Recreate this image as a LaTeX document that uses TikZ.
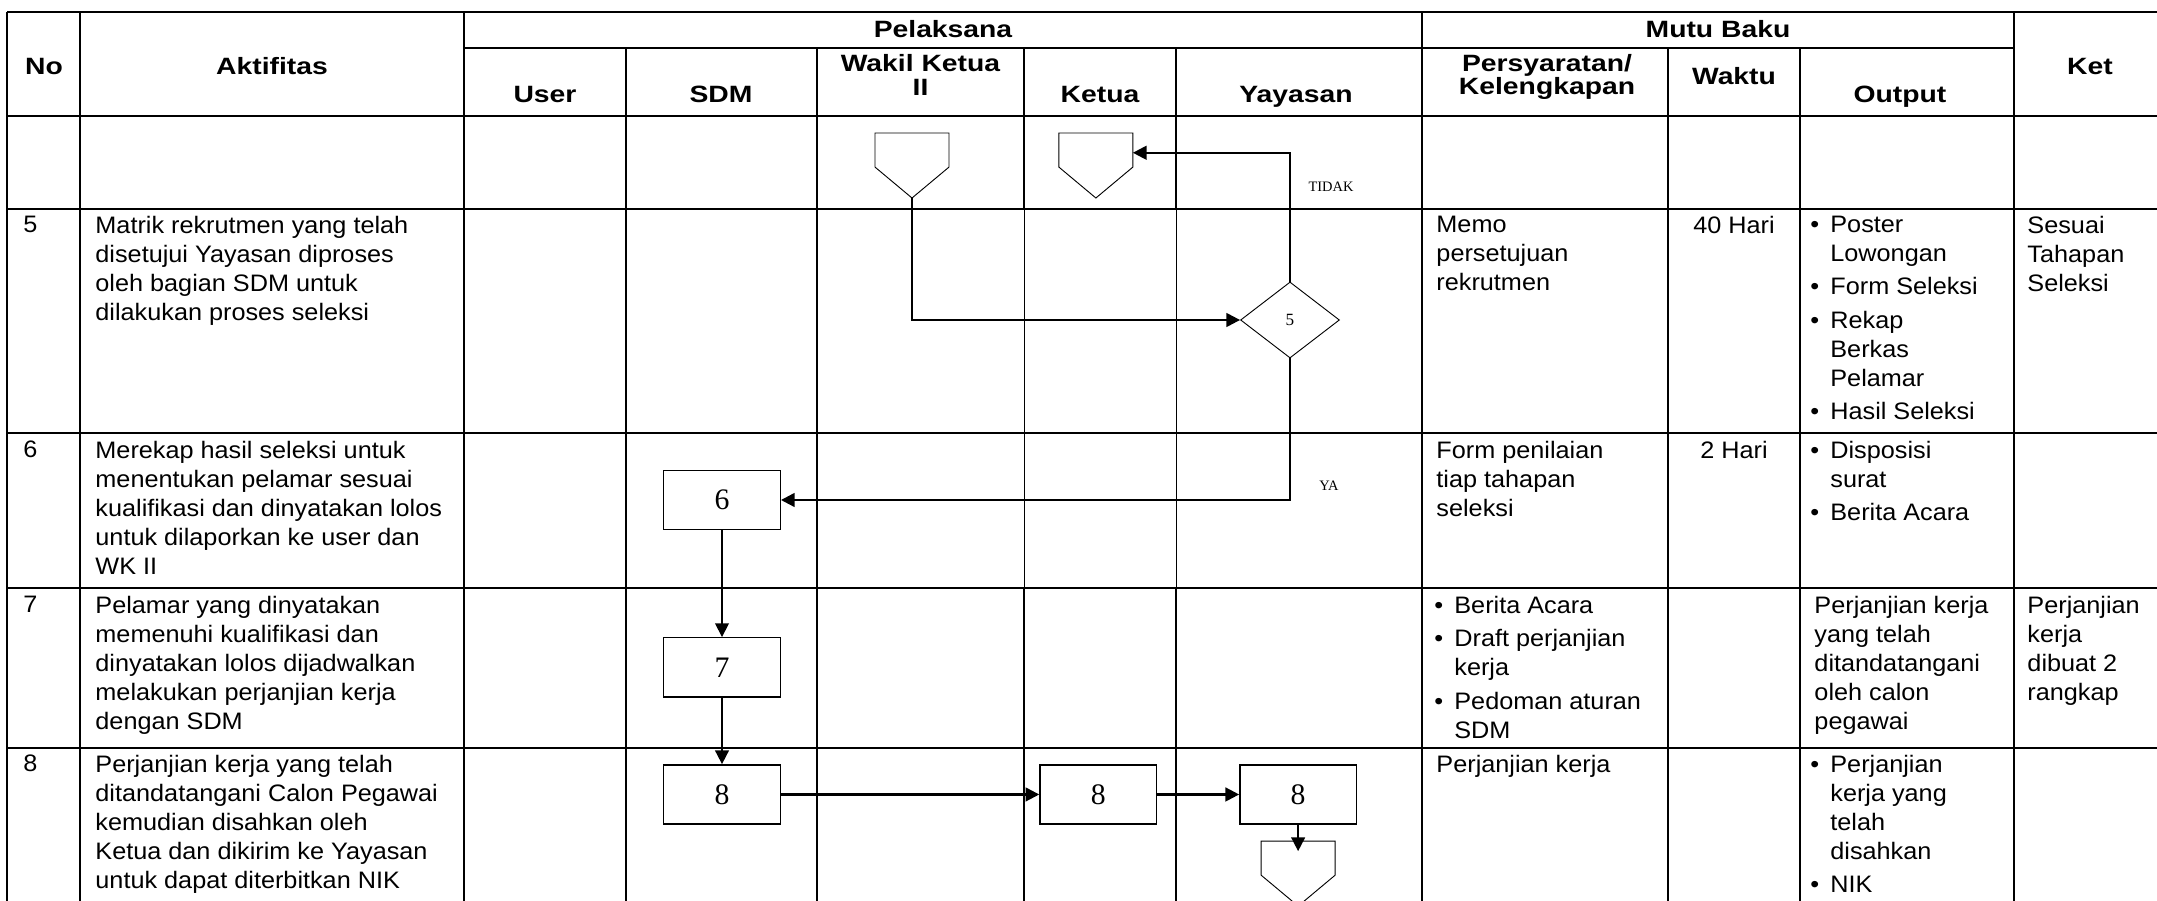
\documentclass[tikz,border=0pt]{standalone}
\usepackage{fontspec}
\setmainfont{Liberation Sans}[FakeStretch=1.06]
\newfontfamily\hdfont{Liberation Sans}[FakeStretch=1.2]
\newfontfamily\numfont{Liberation Serif}
\usetikzlibrary{shapes.geometric, arrows.meta, positioning}

\newcommand{\bul}{\makebox[8.7pt][l]{\textbullet}}
\newcommand{\bulind}{\hspace*{8.7pt}}
\newcommand{\opshape}[1]{%
  \draw [line width=0.4pt] (#1.north west) -- (#1.north east) -- ([yshift=13.5pt]#1.south east)
    -- (#1.south) -- ([yshift=13.5pt]#1.south west) -- cycle;}

\begin{document}
\begin{tikzpicture}[x=0.4367pt, y=-0.4367pt,
    gridline/.style={line width=0.9pt},
    gridthin/.style={line width=0.35pt},
    hdr/.style={font=\hdfont\fontsize{10.3}{10.2}\selectfont\bfseries,
                align=center, inner sep=0pt},
    txt/.style={font=\fontsize{10.4}{12.65}\selectfont, align=left,
                anchor=north west, inner sep=0pt},
    txtc/.style={txt, anchor=north, align=center},
    stepbox/.style={rectangle, draw, line width=0.6pt, minimum width=50.9pt,
                    minimum height=25.9pt, inner sep=0pt,
                    font=\numfont\fontsize{13}{14}\selectfont},
    decision/.style={diamond, draw, line width=0.4pt, minimum width=43.2pt,
                     minimum height=33.2pt, inner sep=0pt,
                     font=\numfont\fontsize{7.5}{8}\selectfont},
    offpage/.style={rectangle, minimum width=32.3pt, minimum height=28.4pt,
                    inner sep=0pt, outer sep=0pt},
    flag/.style={font=\numfont\fontsize{6.3}{7}\selectfont, inner sep=0pt},
    flow/.style={-{Triangle[length=6pt,width=6pt]}, line width=1pt},
    vflow/.style={-{Triangle[length=6pt,width=6pt]}, line width=0.75pt}
]
\useasboundingbox (0,0) rectangle (2157,901);

% --- Table grid ---
\draw [gridline] (7,12) -- (2157,12);
\draw [gridline] (464,48) -- (2014,48);
\foreach \y in {116,209,433,588,748}
  \draw [gridline] (7,\y) -- (2157,\y);
\foreach \x in {7,80,464,1422,2014}
  \draw [gridline] (\x,12) -- (\x,901);
\foreach \x in {626,817,1668,1800}
  \draw [gridline] (\x,48) -- (\x,901);
\foreach \x in {1024,1176} {
  \draw [gridline] (\x,48) -- (\x,209);
  \draw [gridthin] (\x,209) -- (\x,588);
  \draw [gridline] (\x,588) -- (\x,901);
}

% --- Header ---
\node (hNo) [hdr, anchor=base] at (44,75) {No};
\node (hAkt) [hdr, anchor=base] at (272,75) {Aktifitas};
\node (hPel) [hdr, anchor=base] at (943,37.3) {Pelaksana};
\node (hMutu) [hdr, anchor=base] at (1718,37.3) {Mutu Baku};
\node (hKet) [hdr, anchor=base] at (2090,75) {Ket};
\node (hUser) [hdr, anchor=base] at (545,102.5) {User};
\node (hSDM) [hdr, anchor=base] at (721,102.5) {SDM};
\node (hWK) [hdr] at (920.5,74.8) {Wakil Ketua\\II};
\node (hKetua) [hdr, anchor=base] at (1100,102.5) {Ketua};
\node (hYay) [hdr, anchor=base] at (1296,102.5) {Yayasan};
\node (hPers) [hdr] at (1547,77.2) {Persyaratan/\\Kelengkapan};
\node (hWaktu) [hdr, anchor=base] at (1734,85) {Waktu};
\node (hOut) [hdr, anchor=base] at (1900,103) {Output};

% --- Row 5 ---
\node (n5) [txt] at (23,215.5) {5};
\node (a5) [txt] at (95,215.5) {Matrik rekrutmen yang telah\\disetujui Yayasan diproses\\oleh bagian SDM untuk\\dilakukan proses seleksi};
\node (p5) [txt] at (1436,215.5) {Memo\\persetujuan\\rekrutmen};
\node (w5) [txtc] at (1734,215.5) {40 Hari};
\node (o5) [txt] at (1810,215.5) {\bul Poster\\\bulind Lowongan\\[2pt]\bul Form Seleksi\\[2pt]\bul Rekap\\\bulind Berkas\\\bulind Pelamar\\[2pt]\bul Hasil Seleksi};
\node (k5) [txt] at (2027,215.5) {Sesuai\\Tahapan\\Seleksi};

% --- Row 6 ---
\node (n6) [txt] at (23,440.5) {6};
\node (a6) [txt] at (95,440.5) {Merekap hasil seleksi untuk\\menentukan pelamar sesuai\\kualifikasi dan dinyatakan lolos\\untuk dilaporkan ke user dan\\WK II};
\node (p6) [txt] at (1436,440.5) {Form penilaian\\tiap tahapan\\seleksi};
\node (w6) [txtc] at (1734,440.5) {2 Hari};
\node (o6) [txt] at (1810,440.5) {\bul Disposisi\\\bulind surat\\[2pt]\bul Berita Acara};

% --- Row 7 ---
\node (n7) [txt] at (23,595.5) {7};
\node (a7) [txt] at (95,595.5) {Pelamar yang dinyatakan\\memenuhi kualifikasi dan\\dinyatakan lolos dijadwalkan\\melakukan perjanjian kerja\\dengan SDM};
\node (p7) [txt] at (1434,595.5) {\bul Berita Acara\\[2pt]\bul Draft perjanjian\\\bulind kerja\\[2pt]\bul Pedoman aturan\\\bulind SDM};
\node (o7) [txt] at (1814,595.5) {Perjanjian kerja\\yang telah\\ditandatangani\\oleh calon\\pegawai};
\node (k7) [txt] at (2027,595.5) {Perjanjian\\kerja\\dibuat 2\\rangkap};

% --- Row 8 ---
\node (n8) [txt] at (23,754.5) {8};
\node (a8) [txt] at (95,754.5) {Perjanjian kerja yang telah\\ditandatangani Calon Pegawai\\kemudian disahkan oleh\\Ketua dan dikirim ke Yayasan\\untuk dapat diterbitkan NIK};
\node (p8) [txt] at (1436,754.5) {Perjanjian kerja};
\node (o8) [txt] at (1810,754.5) {\bul Perjanjian\\\bulind kerja yang\\\bulind telah\\\bulind disahkan\\[2pt]\bul NIK};

% --- Flow ---
\node (opWK) [offpage] at (912,165.5) {};
\node (opKetua) [offpage, right=48pt of opWK] {};
\opshape{opWK}
\opshape{opKetua}
\node (d5) [decision] at (1290,320) {5};
\node (box6) [stepbox] at (722,500) {6};
\node (box7) [stepbox, below=46.6pt of box6] {7};
\node (box8a) [stepbox, below=29pt of box7] {8};
\node (box8b) [stepbox, right=112.8pt of box8a] {8};
\node (box8c) [stepbox, right=35.8pt of box8b] {8};
\node (opYay) [offpage, below=7.1pt of box8c] {};
\opshape{opYay}
\node (lbTidak) [flag] at (1331,187) {TIDAK};
\node (lbYa) [flag] at (1329,486) {YA};

\draw [flow] (opWK.south) |- (d5.west);
\draw [flow] (d5.north) |- (opKetua.19);
\draw [flow] (d5.south) |- (box6.east);
\draw [vflow] (box6) -- (box7);
\draw [vflow] (box7) -- (box8a);
\draw [flow] (box8a) -- (box8b);
\draw [flow] (box8b) -- (box8c);
\draw [vflow, shorten >=-4.4pt] (box8c.south) -- (opYay.north);
\end{tikzpicture}
\end{document}
